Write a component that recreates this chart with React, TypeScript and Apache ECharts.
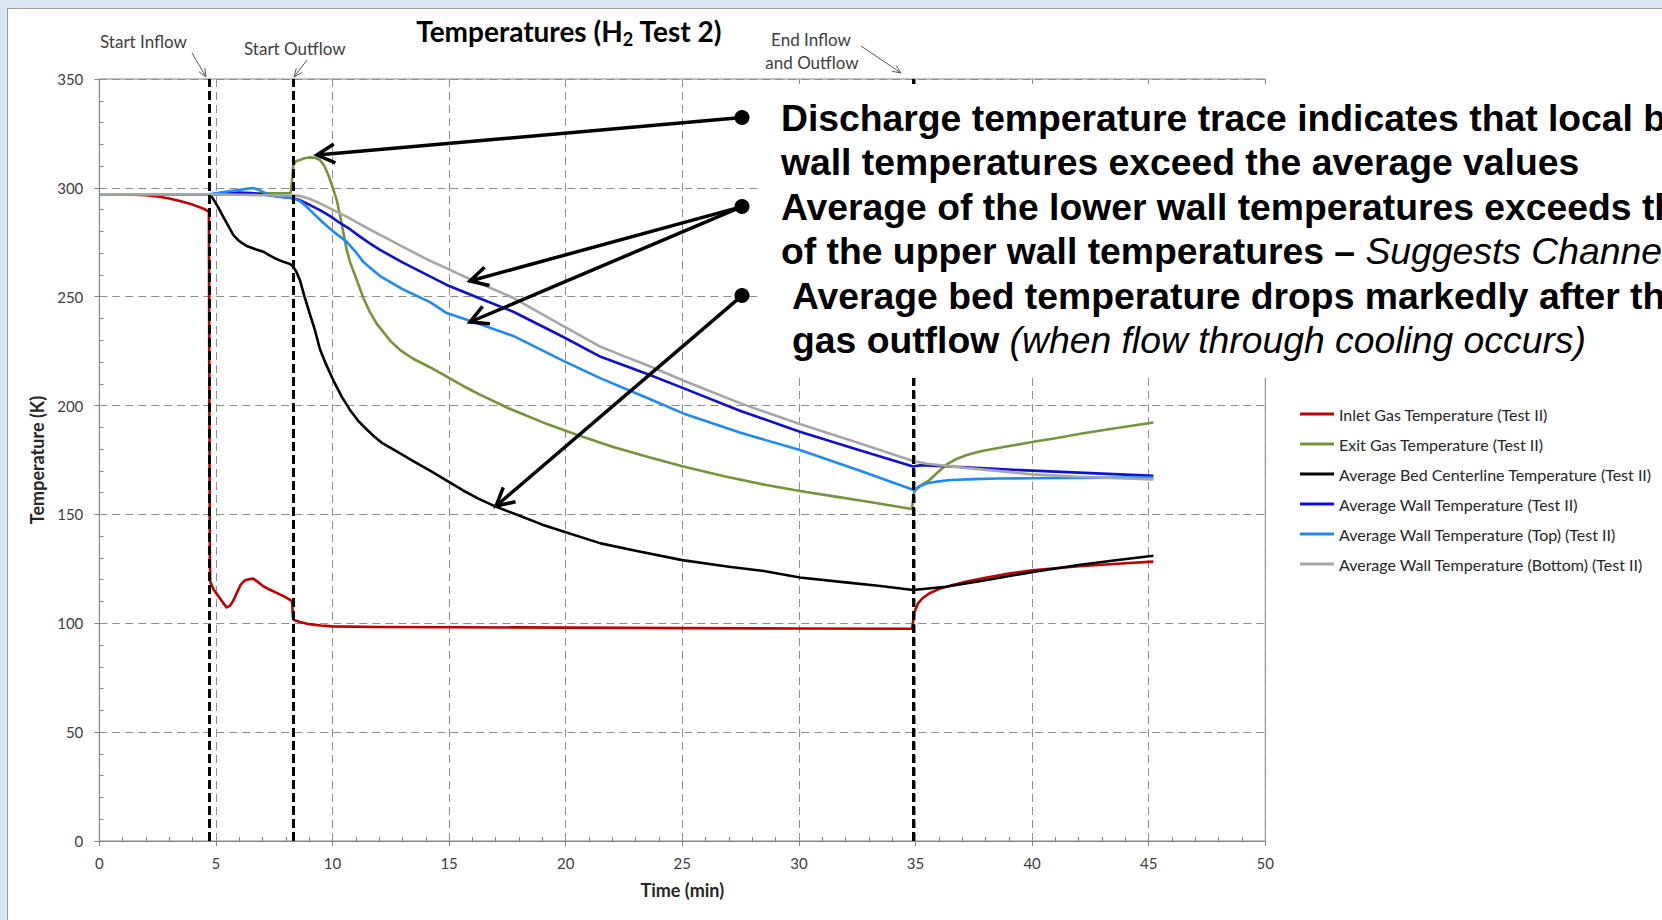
import React, { useEffect, useRef } from "react";
import * as echarts from "echarts";

// ---------- data (time in min, temperature in K) ----------
const seriesNames = [
  "Inlet Gas Temperature (Test II)",
  "Exit Gas Temperature (Test II)",
  "Average Bed Centerline Temperature (Test II)",
  "Average Wall Temperature (Test II)",
  "Average Wall Temperature (Top) (Test II)",
  "Average Wall Temperature (Bottom) (Test II)",
];

const inletTime = [0, 1, 1.5, 2, 2.5, 3, 3.5, 4, 4.5, 4.7, 4.72, 4.74, 4.76, 4.9, 5.1, 5.3, 5.46, 5.6, 5.75, 5.9, 6.05, 6.25, 6.46, 6.6, 6.8, 7.03, 7.3, 7.6, 7.9, 8.18, 8.27, 8.3, 8.35, 8.6, 9.0, 9.5, 10, 12, 15, 20, 25, 30, 34.85, 34.9, 34.95, 35.1, 35.3, 35.6, 36.0, 36.5, 37.2, 38, 39, 40, 41, 42, 43, 44, 45.2];
const inletTemp = [297, 297, 296.9, 296.6, 296, 295.1, 293.8, 292.3, 290.3, 289, 200, 130, 119, 115.5, 112.5, 109.5, 107.3, 108, 110.5, 114, 117.5, 119.8, 120.3, 120.5, 119, 117, 115.5, 114, 112.5, 110.8, 110, 103, 101.5, 100.6, 99.6, 99, 98.6, 98.3, 98.2, 98, 97.8, 97.6, 97.5, 101, 105, 109, 111.5, 113.8, 115.7, 117.3, 119.2, 120.9, 122.8, 124.3, 125.3, 126.2, 126.9, 127.6, 128.3];

const exitTime = [0, 4.7, 6, 7, 8.2, 8.28, 8.32, 8.45, 8.6, 8.8, 9.04, 9.25, 9.46, 9.65, 9.82, 10.0, 10.18, 10.33, 10.47, 10.61, 10.75, 11.04, 11.32, 11.6, 11.9, 12.2, 12.5, 12.9, 13.46, 14.2, 14.9, 15.6, 16.32, 17.5, 19.2, 20.5, 22.04, 23.5, 25.04, 26.8, 28.6, 30.04, 31.5, 32.9, 34.85, 34.9, 34.95, 35.1, 35.3, 35.6, 35.97, 36.34, 36.7, 37.2, 37.8, 38.6, 40, 41, 42.2, 43.5, 45.2];
const exitTemp = [297, 297, 297.2, 297.5, 297.5, 305, 310.5, 312.3, 312.8, 313.6, 314, 313.8, 312.8, 310, 305.9, 300.5, 294.4, 287, 279.1, 271.5, 266, 257.7, 249.5, 243, 237.5, 233.5, 229.5, 225.5, 221.5, 217.5, 213.3, 209, 205, 199, 191.5, 186.5, 181, 176.5, 172, 167.5, 163.5, 160.8, 158.3, 155.9, 152.5, 157, 160.5, 162.5, 163.8, 165.8, 169.5, 173, 175.2, 177.3, 179, 180.6, 183.3, 185, 187.3, 189.5, 192.2];

const bedTime = [0, 4.7, 4.85, 5.1, 5.3, 5.46, 5.75, 6.0, 6.32, 6.7, 7.03, 7.3, 7.6, 7.9, 8.18, 8.3, 8.45, 8.6, 8.8, 9.03, 9.25, 9.46, 9.7, 10.04, 10.4, 10.75, 11.1, 11.47, 11.8, 12.1, 12.9, 13.46, 14.2, 14.9, 15.6, 16.3, 17.0, 18, 19, 20, 21.5, 23, 25, 27, 28.5, 30.04, 32, 33.5, 34.9, 36.3, 38, 40.1, 42, 43.5, 45.2];
const bedTemp = [297, 297, 295.5, 291, 287, 283.9, 278.3, 275.5, 273.3, 271.8, 270.7, 269, 267.3, 266, 265, 264, 261.5, 257.7, 250, 242, 234.5, 226, 219.5, 211.5, 204, 198, 193, 189, 185.7, 183, 178, 174.5, 170, 165.5, 161, 157, 153.6, 149.5, 145.3, 141.8, 136.7, 133.3, 129, 126, 124, 121, 118.8, 117.1, 115.3, 116.8, 119.8, 123.7, 126.8, 128.8, 131];

const wallTime = [0, 4.7, 5.0, 5.5, 6.0, 6.5, 7.0, 7.5, 8.0, 8.3, 8.6, 9.0, 9.46, 9.9, 10.3, 10.75, 11.18, 11.6, 12.04, 13, 14.2, 14.9, 16.3, 17.75, 19.9, 21.5, 23.5, 25.04, 27.5, 30.04, 32.5, 34.9, 35.2, 36.5, 38, 40, 42, 44, 45.2];
const wallTemp = [297, 297, 297.1, 297.5, 297.8, 297.6, 297, 296.3, 295.7, 295.2, 294.4, 292.3, 289.8, 287, 284, 281, 277.6, 274.5, 271.5, 265.8, 259.2, 255.4, 249.3, 243.1, 231.5, 222.4, 214.5, 208, 197.5, 188, 179.8, 172, 172.6, 172, 171.2, 170.1, 169.2, 168.3, 167.8];

const topTime = [0, 4.7, 5.0, 5.4, 5.8, 6.2, 6.6, 6.8, 7.03, 7.3, 7.6, 8.0, 8.3, 8.6, 8.9, 9.18, 9.6, 10.04, 10.6, 11.0, 11.32, 11.7, 12.04, 13, 14.18, 14.9, 16.3, 17.75, 19.9, 21.5, 23.5, 25.04, 27.5, 30.04, 32.5, 34.9, 35.0, 35.2, 35.5, 36.0, 36.5, 37.5, 38.5, 40, 42, 44, 45.2];
const topTemp = [297, 297, 297.5, 298.2, 298.8, 299.4, 299.9, 299.3, 298, 296.8, 296, 295.6, 295.2, 294, 291.2, 288.3, 284, 279.9, 275.3, 270.5, 266, 262.5, 259.5, 253.5, 247.5, 242.5, 237.5, 232, 220.5, 212.5, 203.5, 196.4, 187.5, 179.6, 170.5, 161.3, 161.5, 163, 164.3, 165.2, 165.8, 166.2, 166.5, 166.6, 166.8, 166.9, 166.9];

const bottomTime = [0, 4.7, 6, 7, 8.3, 8.6, 9.0, 9.46, 10, 10.6, 11.3, 12.04, 13, 14.18, 14.9, 15.9, 17.75, 19.9, 21.5, 22.3, 23.5, 25.04, 27.5, 30.04, 32.5, 34.9, 35.5, 37, 38.5, 40, 42, 44, 45.2];
const bottomTemp = [297, 297, 296.8, 296.6, 296.5, 296.3, 295, 292.9, 290, 286.8, 282.6, 278.4, 273, 266.5, 263, 258, 249.5, 236.5, 227, 223.5, 218.5, 211.5, 201, 191.5, 183, 174.5, 173.3, 171.5, 170, 168.4, 167.3, 166.5, 166.1];

const eventTimes = [4.7, 8.3, 34.9];

const seriesColors = ["#c00000", "#77933c", "#000000", "#0f0fd6", "#1f8bf2", "#a6a6a6"];

const zip = (t: number[], v: number[]) => t.map((x, i) => [x, v[i]]);

// ---------- decoration helpers ----------
function arrow(x1: number, y1: number, x2: number, y2: number, len: number, spread: number, color: string, width: number, z: number) {
  const a = Math.atan2(y2 - y1, x2 - x1);
  const w1 = [x2 - len * Math.cos(a - spread), y2 - len * Math.sin(a - spread)];
  const w2 = [x2 - len * Math.cos(a + spread), y2 - len * Math.sin(a + spread)];
  return [
    { type: "line", z, shape: { x1, y1, x2, y2 }, style: { stroke: color, lineWidth: width } },
    { type: "polyline", z, shape: { points: [w1, [x2, y2], w2] }, style: { stroke: color, lineWidth: width, fill: "none", lineJoin: "miter" } },
  ];
}

export default function App() {
  const ref = useRef<HTMLDivElement>(null);

  useEffect(() => {
    if (!ref.current) return;
    const chart = echarts.init(ref.current, null, { renderer: "svg" });
    const datasets = [
      zip(inletTime, inletTemp),
      zip(exitTime, exitTemp),
      zip(bedTime, bedTemp),
      zip(wallTime, wallTemp),
      zip(topTime, topTemp),
      zip(bottomTime, bottomTemp),
    ];

    const axisGrey = "#868686";
    const gridGrey = "#8f8f8f";
    const labelColor = "#404040";
    const bulletX = 742;
    const lineYs = [117.6, 162, 206.6, 251, 295.6, 340];
    const big = { fontFamily: "Liberation Sans", fontSize: 37.3, fill: "#000" };
    const small = { fontFamily: "Lato", fontSize: 17, fill: labelColor, textVerticalAlign: "middle" };

    const graphics: any[] = [
      // slide background strips
      { type: "rect", z: 0, shape: { x: 0, y: 0, width: 7, height: 920 }, style: { fill: "#d6e5f5" } },
      { type: "rect", z: 0, shape: { x: 0, y: 0, width: 1662, height: 8 }, style: { fill: "#dde9f6" } },
      { type: "line", z: 0, shape: { x1: 7.5, y1: 8, x2: 7.5, y2: 920 }, style: { stroke: "#9a9a9a", lineWidth: 1 } },
      { type: "line", z: 0, shape: { x1: 7, y1: 8.5, x2: 1662, y2: 8.5 }, style: { stroke: "#9a9a9a", lineWidth: 1 } },
      // chart title
      {
        type: "text", z: 5, x: 569, y: 31,
        style: {
          text: "{a|Temperatures (H}{b|2}{a| Test 2)}",
          textAlign: "center", textVerticalAlign: "middle",
          rich: {
            a: { fontFamily: "Lato", fontWeight: "bold", fontSize: 28, lineHeight: 34, fill: "#000" },
            b: { fontFamily: "Lato", fontWeight: "bold", fontSize: 18, lineHeight: 18, fill: "#000", verticalAlign: "bottom" },
          },
        },
      },
      // small annotations
      { type: "text", z: 5, x: 100, y: 41, style: { ...small, text: "Start Inflow", textAlign: "left" } },
      { type: "text", z: 5, x: 244, y: 48, style: { ...small, text: "Start Outflow", textAlign: "left" } },
      { type: "text", z: 5, x: 811, y: 39, style: { ...small, text: "End Inflow", textAlign: "center" } },
      { type: "text", z: 5, x: 812, y: 62, style: { ...small, text: "and Outflow", textAlign: "center" } },
      ...arrow(192, 53, 206, 77, 9, 0.4, "#595959", 1, 5),
      ...arrow(307, 60, 294, 77, 9, 0.4, "#595959", 1, 5),
      ...arrow(861, 46, 901, 73, 9, 0.4, "#595959", 1, 5),
      // white text panel
      { type: "rect", z: 40, shape: { x: 760, y: 84, width: 902, height: 294 }, style: { fill: "#ffffff" } },
      { type: "text", z: 41, x: 781, y: lineYs[0], style: { ...big, fontWeight: "bold", text: "Discharge temperature trace indicates that local bed", textAlign: "left", textVerticalAlign: "middle" } },
      { type: "text", z: 41, x: 781, y: lineYs[1], style: { ...big, fontWeight: "bold", text: "wall temperatures exceed the average values", textAlign: "left", textVerticalAlign: "middle" } },
      { type: "text", z: 41, x: 781, y: lineYs[2], style: { ...big, fontWeight: "bold", text: "Average of the lower wall temperatures exceeds that", textAlign: "left", textVerticalAlign: "middle" } },
      {
        type: "text", z: 41, x: 781, y: lineYs[3],
        style: {
          text: "{b|of the upper wall temperatures – }{i|Suggests Channeling}",
          textAlign: "left", textVerticalAlign: "middle",
          rich: { b: { ...big, fontWeight: "bold" }, i: { ...big, fontWeight: "normal", fontStyle: "italic" } },
        },
      },
      { type: "text", z: 41, x: 792, y: lineYs[4], style: { ...big, fontWeight: "bold", text: "Average bed temperature drops markedly after the", textAlign: "left", textVerticalAlign: "middle" } },
      {
        type: "text", z: 41, x: 792, y: lineYs[5],
        style: {
          text: "{b|gas outflow }{i|(when flow through cooling occurs)}",
          textAlign: "left", textVerticalAlign: "middle",
          rich: { b: { ...big, fontWeight: "bold" }, i: { ...big, fontWeight: "normal", fontStyle: "italic" } },
        },
      },
      // bullets + pointer arrows
      { type: "circle", z: 42, shape: { cx: bulletX, cy: lineYs[0], r: 7.5 }, style: { fill: "#000" } },
      { type: "circle", z: 42, shape: { cx: bulletX, cy: lineYs[2], r: 7.5 }, style: { fill: "#000" } },
      { type: "circle", z: 42, shape: { cx: bulletX, cy: lineYs[4], r: 7.5 }, style: { fill: "#000" } },
      ...arrow(bulletX, lineYs[0], 317, 155, 20, 0.49, "#000", 3.5, 42),
      ...arrow(bulletX, lineYs[2], 470, 281, 20, 0.49, "#000", 3.5, 42),
      ...arrow(bulletX, lineYs[2], 470, 322, 20, 0.49, "#000", 3.5, 42),
      ...arrow(bulletX, lineYs[4], 496, 506, 20, 0.49, "#000", 3.5, 42),
    ];

    const option: any = {
      animation: false,
      backgroundColor: "#ffffff",
      textStyle: { fontFamily: "Lato" },
      grid: { left: 99.3, top: 79, width: 1166, height: 762, show: true, borderColor: axisGrey, borderWidth: 1, backgroundColor: "transparent" },
      legend: {
        orient: "vertical",
        left: 1300,
        top: 405,
        padding: 0,
        itemGap: 12,
        itemWidth: 34,
        itemHeight: 3,
        icon: "rect",
        selectedMode: false,
        data: seriesNames,
        textStyle: { fontFamily: "Lato", fontSize: 16, color: "#262626", lineHeight: 18 },
      },
      xAxis: [
        {
          type: "value", min: 0, max: 50, interval: 5, position: "bottom",
          axisLine: { show: true, onZero: false, lineStyle: { color: axisGrey, width: 1 } },
          axisTick: { show: true, inside: false, length: 5, lineStyle: { color: axisGrey } },
          axisLabel: { fontFamily: "Lato", fontSize: 15, color: labelColor, margin: 14 },
          splitLine: { show: true, lineStyle: { type: [8, 5], color: gridGrey, width: 1 } },
          name: "Time (min)", nameLocation: "middle", nameGap: 40,
          nameTextStyle: { fontFamily: "Lato", fontWeight: "bold", fontSize: 18, color: "#262626" },
        },
        {
          type: "value", min: 0, max: 50, interval: 5, position: "bottom",
          axisLine: { show: false, onZero: false },
          axisTick: { show: false, inside: true },
          axisLabel: { show: false },
          splitLine: { show: false },
          minorTick: { show: true, splitNumber: 5, length: 4, lineStyle: { color: axisGrey } },
        },
      ],
      yAxis: [
        {
          type: "value", min: 0, max: 350, interval: 50, position: "left",
          axisLine: { show: true, onZero: false, lineStyle: { color: axisGrey, width: 1 } },
          axisTick: { show: true, inside: false, length: 5, lineStyle: { color: axisGrey } },
          axisLabel: { fontFamily: "Lato", fontSize: 15, color: labelColor, margin: 16 },
          splitLine: { show: true, lineStyle: { type: [8, 5], color: gridGrey, width: 1 } },
          name: "Temperature (K)", nameLocation: "middle", nameGap: 44, nameRotate: 90,
          nameTextStyle: { fontFamily: "Lato", fontWeight: "bold", fontSize: 18, color: "#262626" },
        },
        {
          type: "value", min: 0, max: 350, interval: 50, position: "left",
          axisLine: { show: false, onZero: false },
          axisTick: { show: false, inside: true },
          axisLabel: { show: false },
          splitLine: { show: false },
          minorTick: { show: true, splitNumber: 5, length: 4, lineStyle: { color: axisGrey } },
        },
      ],
      series: [
        ...seriesNames.map((name, i) => ({
          name,
          type: "line",
          data: datasets[i],
          showSymbol: false,
          symbol: "none",
          smooth: false,
          z: 2,
          lineStyle: { color: seriesColors[i], width: 2.6, join: "round" },
          itemStyle: { color: seriesColors[i] },
        })),
        {
          name: "events",
          type: "line",
          data: [],
          z: 4,
          markLine: {
            silent: true,
            symbol: ["none", "none"],
            label: { show: false },
            lineStyle: { color: "#000", width: 3, type: [9, 4] },
            data: eventTimes.map((t) => ({ xAxis: t })),
          },
        },
      ],
      graphic: { elements: graphics },
    };

    chart.setOption(option);
    return () => chart.dispose();
  }, []);

  return (
    <div
      ref={ref}
      style={{ position: "absolute", left: 0, top: 0, width: 1662, height: 920 }}
    />
  );
}
